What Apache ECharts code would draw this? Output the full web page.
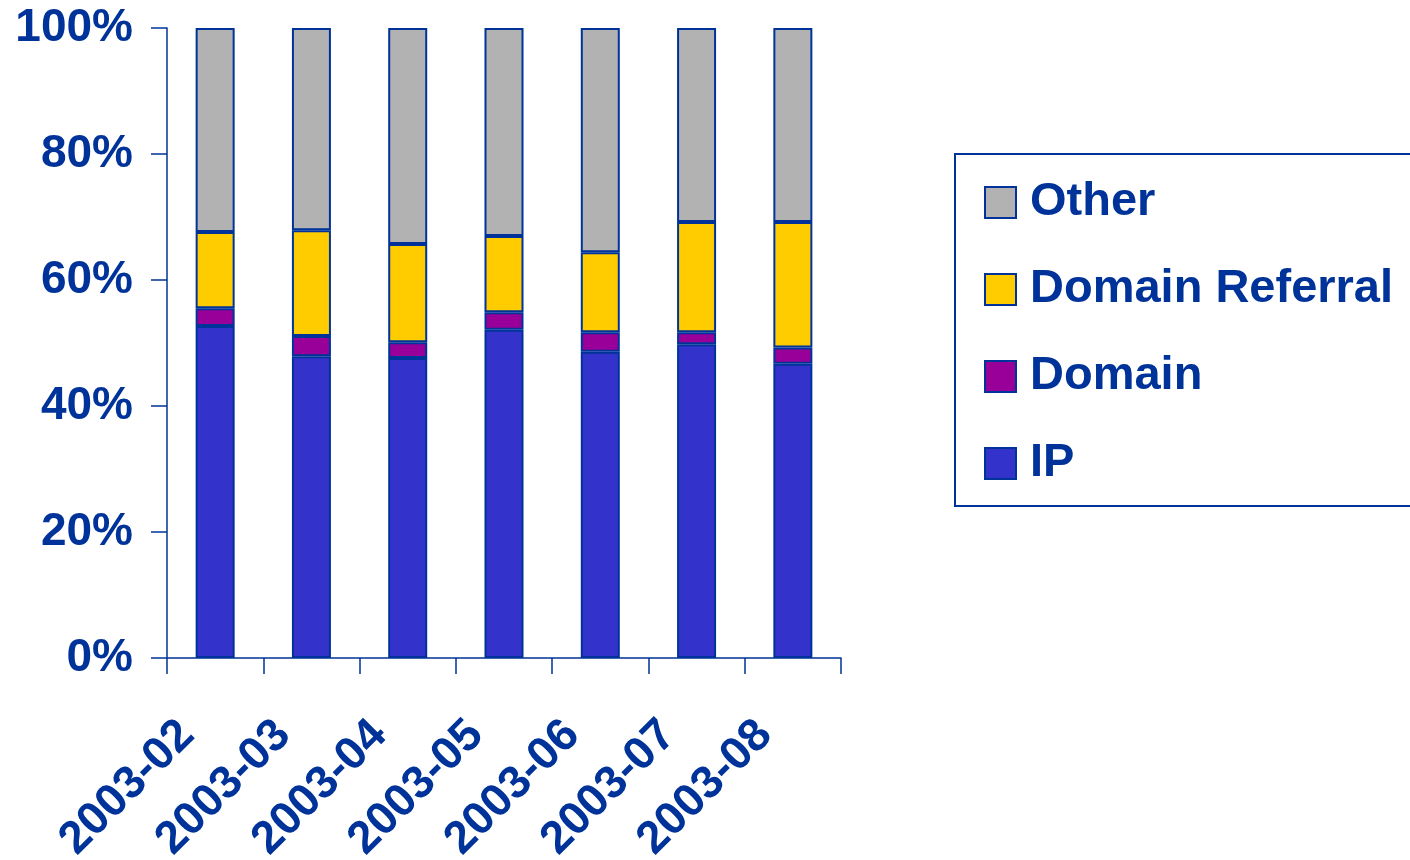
<!DOCTYPE html>
<html>
<head>
<meta charset="utf-8">
<script src="https://cdn.jsdelivr.net/npm/echarts@6/dist/echarts.min.js"></script>
<style>
html,body{margin:0;padding:0;background:#fff;}
#chart{width:1410px;height:860px;}
</style>
</head>
<body>
<div id="chart"></div>
<script>
var categories = ['2003-02','2003-03','2003-04','2003-05','2003-06','2003-07','2003-08'];
var ipValues = [52.7, 47.9, 47.6, 52.1, 48.6, 49.8, 46.7];
var domainValues = [2.8, 3.2, 2.5, 2.8, 3.1, 1.9, 2.6];
var domainReferralValues = [12.1, 16.8, 15.6, 12.1, 12.7, 17.5, 19.9];
var otherValues = [32.4, 32.1, 34.3, 33.0, 35.6, 30.8, 30.8];
var yTicks = [0, 20, 40, 60, 80, 100];

var TXT = '#003399';
var FONT = '"Liberation Sans", Arial, sans-serif';

function bar(name, data, color) {
  return {
    name: name,
    type: 'bar',
    stack: 'total',
    data: data,
    barWidth: 39,
    itemStyle: { color: color, borderColor: '#003399', borderWidth: 2 },
    emphasis: { disabled: true }
  };
}

var chart = echarts.init(document.getElementById('chart'));
chart.setOption({
  animation: false,
  backgroundColor: '#ffffff',
  textStyle: { fontFamily: FONT },
  grid: [
    { left: 167, right: 569, top: 28, bottom: 202, outerBoundsMode: 'none', containLabel: false },
    { left: 139, right: 597, top: 28, bottom: 202, outerBoundsMode: 'none', containLabel: false }
  ],
  legend: {
    orient: 'vertical',
    left: 955,
    top: 154,
    data: ['Other', 'Domain Referral', 'Domain', 'IP'],
    icon: 'rect',
    itemWidth: 31,
    itemHeight: 31,
    itemGap: 40,
    padding: [25, 40, 19, 29],
    borderColor: '#003399',
    borderWidth: 2,
    borderRadius: 0,
    textStyle: { color: TXT, fontSize: 47, fontWeight: 'bold', fontFamily: FONT, lineHeight: 45, padding: [0, 0, 0, 9] },
    selectedMode: false
  },
  xAxis: [
    {
      type: 'category',
      gridIndex: 0,
      data: categories,
      axisLine: { lineStyle: { color: '#003399', width: 1.5 } },
      axisTick: { show: true, length: 16, lineStyle: { color: '#003399', width: 1.5 } },
      axisLabel: { show: false }
    },
    {
      type: 'category',
      gridIndex: 1,
      data: categories,
      axisLine: { show: false },
      axisTick: { show: false },
      axisLabel: {
        interval: 0,
        rotate: 45,
        margin: 70,
        color: TXT,
        fontSize: 46,
        fontWeight: 'bold',
        fontFamily: FONT
      }
    }
  ],
  yAxis: [
    {
      type: 'value',
      gridIndex: 0,
      min: 0,
      max: 100,
      interval: 20,
      axisLine: { show: true, lineStyle: { color: '#003399', width: 1.5 } },
      axisTick: { show: true, length: 16, lineStyle: { color: '#003399', width: 1.5 } },
      splitLine: { show: false },
      axisLabel: {
        margin: 34,
        color: TXT,
        fontSize: 46,
        fontWeight: 'bold',
        fontFamily: FONT,
        formatter: function (v) { return yTicks.indexOf(v) >= 0 ? v + '%' : ''; }
      }
    },
    {
      type: 'value',
      gridIndex: 1,
      min: 0,
      max: 100,
      show: false
    }
  ],
  series: [
    bar('IP', ipValues, '#3333CC'),
    bar('Domain', domainValues, '#990099'),
    bar('Domain Referral', domainReferralValues, '#FFCC00'),
    bar('Other', otherValues, '#B2B2B2')
  ]
});
</script>
</body>
</html>
